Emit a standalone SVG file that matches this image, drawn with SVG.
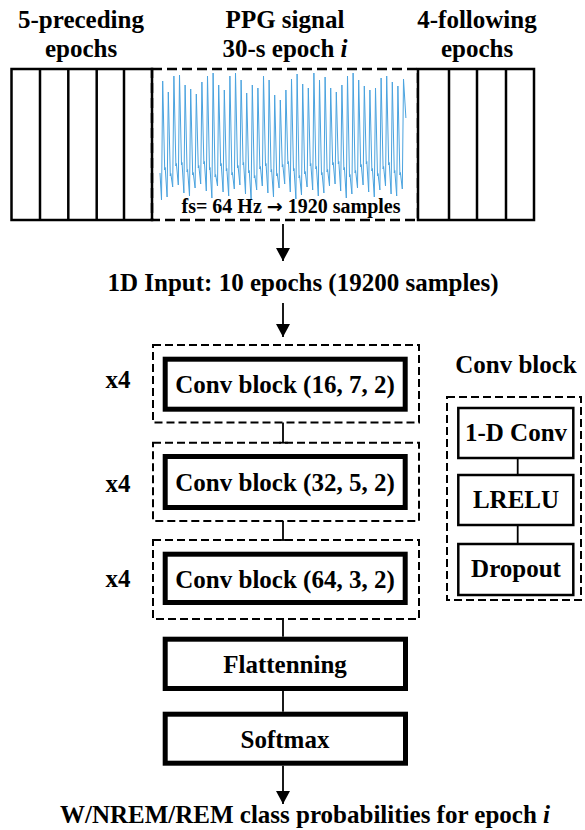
<svg xmlns="http://www.w3.org/2000/svg" width="585" height="830" viewBox="0 0 585 830">
<style>
text{font-family:"Liberation Serif","Times New Roman",serif;font-weight:bold;font-size:25px;fill:#000;text-anchor:middle}
.sm{font-size:20px}
.arr{font-family:"DejaVu Sans",sans-serif;font-size:19px;font-weight:bold}
.box{fill:#fff;stroke:#000;stroke-width:2.5}
.thick{fill:#fff;stroke:#000;stroke-width:5}
.dash{fill:none;stroke:#000;stroke-width:2;stroke-dasharray:8,4}
.dash2{fill:none;stroke:#000;stroke-width:2.5;stroke-dasharray:10,5}
.ln{stroke:#000;stroke-width:1.8;fill:none}
.sig{fill:none;stroke:#4aa3df;stroke-width:1;stroke-linejoin:round}
</style>
<defs>
<marker id="ah" markerUnits="userSpaceOnUse" markerWidth="14" markerHeight="14" refX="13" refY="7" orient="auto">
<path d="M0,0 L13,7 L0,14 z" fill="#000"/>
</marker>
</defs>

<g id="preceding">
<text x="81" y="28">5-preceding</text>
<text x="81" y="57">epochs</text>
<rect class="box" x="11.5" y="69" width="140.5" height="151"/>
<line class="box" x1="40" y1="69" x2="40" y2="220"/>
<line class="box" x1="68.3" y1="69" x2="68.3" y2="220"/>
<line class="box" x1="96.7" y1="69" x2="96.7" y2="220"/>
<line class="box" x1="124" y1="69" x2="124" y2="220"/>
</g>

<g id="current">
<text x="285" y="28">PPG signal</text>
<text x="285" y="57">30-s epoch <tspan font-style="italic">i</tspan></text>
<rect class="dash2" x="152" y="69" width="266" height="151"/>
<path class="sig" d="M160,173 L161.5,200 L162.7,81 L164.7,170 L165.2,167.5 L167.1,197 L168.3,92 L170.3,176 L170.8,173.5 L172.7,187 L173.9,76 L175.9,166 L176.4,163.5 L178.3,185 L179.5,75 L181.5,165 L182,162.5 L183.9,193 L185.1,85 L187.1,172 L187.6,169.5 L189.5,196 L190.7,89 L192.7,175 L193.2,172.5 L195.1,188 L196.3,94 L198.3,168 L198.8,165.5 L200.7,184 L201.9,82 L203.9,164 L204.4,161.5 L206.3,191 L207.5,76 L209.5,170 L210,167.5 L211.9,198 L213.1,73 L215.1,177 L215.6,174.5 L217.5,186 L218.7,85 L220.7,166 L221.2,163.5 L223.1,192 L224.3,90 L226.3,171 L226.8,168.5 L228.7,196 L229.9,76 L231.9,175 L232.4,172.5 L234.3,189 L235.5,73 L237.5,168 L238,165.5 L239.9,185 L241.1,80 L243.1,165 L243.6,162.5 L245.5,194 L246.7,93 L248.7,173 L249.2,170.5 L251.1,199 L252.3,85 L254.3,178 L254.8,175.5 L256.7,190 L257.9,88 L259.9,169 L260.4,166.5 L262.3,186 L263.5,76 L265.5,166 L266,163.5 L267.9,193 L269.1,80 L271.1,172 L271.6,169.5 L273.5,197 L274.7,95 L276.7,176 L277.2,173.5 L279.1,188 L280.3,100 L282.3,167 L282.8,164.5 L284.7,184 L285.9,90 L287.9,164 L288.4,161.5 L290.3,192 L291.5,79 L293.5,171 L294,168.5 L295.9,199 L297.1,74 L299.1,178 L299.6,175.5 L301.5,195 L302.7,84 L304.7,174 L305.2,171.5 L307.1,187 L308.3,88 L310.3,166 L310.8,163.5 L312.7,190 L313.9,73 L315.9,169 L316.4,166.5 L318.3,196 L319.5,80 L321.5,175 L322,172.5 L323.9,193 L325.1,77 L327.1,172 L327.6,169.5 L329.5,186 L330.7,88 L332.7,165 L333.2,162.5 L335.1,184 L336.3,92 L338.3,164 L338.8,161.5 L340.7,191 L341.9,85 L343.9,170 L344.4,167.5 L346.3,198 L347.5,76 L349.5,177 L350,174.5 L351.9,194 L353.1,73 L355.1,173 L355.6,170.5 L357.5,188 L358.7,80 L360.7,167 L361.2,164.5 L363.1,185 L364.3,86 L366.3,164 L366.8,161.5 L368.7,192 L369.9,90 L371.9,171 L372.4,168.5 L374.3,197 L375.5,88 L377.5,176 L378,173.5 L379.9,190 L381.1,78 L383.1,169 L383.6,166.5 L385.5,186 L386.7,76 L388.7,165 L389.2,162.5 L391.1,194 L392.3,82 L394.3,173 L394.8,170.5 L396.7,196 L397.9,86 L399.9,175 L400.4,172.5 L402.3,189 L403.5,79 L405.9,118"/>
<text class="sm" x="291" y="213">fs= 64 Hz <tspan class="arr">→</tspan> 1920 samples</text>
</g>

<g id="following">
<text x="477" y="28">4-following</text>
<text x="477" y="57">epochs</text>
<rect class="box" x="418" y="69" width="116" height="151"/>
<line class="box" x1="449" y1="69" x2="449" y2="220"/>
<line class="box" x1="477" y1="69" x2="477" y2="220"/>
<line class="box" x1="506" y1="69" x2="506" y2="220"/>
</g>

<g id="input">
<text x="303" y="291">1D Input: 10 epochs (19200 samples)</text>
</g>

<g id="conv1">
<rect class="dash" x="153" y="345" width="266" height="77.5"/>
<rect class="thick" x="165.2" y="359.2" width="240" height="50"/>
<text x="285" y="393">Conv block (16, 7, 2)</text>
<text x="118" y="388">x4</text>
</g>

<g id="conv2">
<rect class="dash" x="153" y="442.7" width="266" height="78.3"/>
<rect class="thick" x="165.2" y="456.5" width="240" height="51"/>
<text x="285" y="491">Conv block (32, 5, 2)</text>
<text x="118" y="492">x4</text>
</g>

<g id="conv3">
<rect class="dash" x="153" y="540" width="266" height="79"/>
<rect class="thick" x="165.2" y="554.2" width="240" height="48.3"/>
<text x="285" y="588">Conv block (64, 3, 2)</text>
<text x="118" y="587">x4</text>
</g>

<g id="flatten">
<rect class="thick" x="165.2" y="639.2" width="240.3" height="49.3"/>
<text x="285" y="673">Flattenning</text>
</g>

<g id="softmax">
<rect class="thick" x="165.2" y="714.2" width="240.3" height="49"/>
<text x="285" y="748">Softmax</text>
</g>

<g id="output">
<text x="305" y="823">W/NREM/REM class probabilities for epoch <tspan font-style="italic">i</tspan></text>
</g>

<g id="convblock-detail">
<text x="516" y="373">Conv block</text>
<rect class="dash" x="447" y="397" width="134" height="203"/>
<rect class="box" x="458.3" y="408" width="115" height="50"/>
<text x="516" y="441">1-D Conv</text>
<rect class="box" x="458.3" y="475" width="115" height="50"/>
<text x="516" y="508">LRELU</text>
<rect class="box" x="458.3" y="544" width="115" height="51"/>
<text x="516" y="577">Dropout</text>
</g>

<g id="connectors">
<line class="ln" x1="283" y1="224" x2="283" y2="261" marker-end="url(#ah)"/>
<line class="ln" x1="283" y1="303" x2="283" y2="337" marker-end="url(#ah)"/>
<line class="ln" x1="283" y1="422.5" x2="283" y2="442.7"/>
<line class="ln" x1="279" y1="442.7" x2="288" y2="442.7"/>
<line class="ln" x1="283" y1="521" x2="283" y2="540"/>
<line class="ln" x1="279" y1="540" x2="288" y2="540"/>
<line class="ln" x1="283" y1="619" x2="283" y2="636.7"/>
<line class="ln" x1="283" y1="691" x2="283" y2="711.7"/>
<line class="ln" x1="283" y1="765.7" x2="283" y2="804" marker-end="url(#ah)"/>
<line class="ln" x1="517.7" y1="458" x2="517.7" y2="475"/>
<line class="ln" x1="517.7" y1="525" x2="517.7" y2="544"/>
</g>
</svg>
